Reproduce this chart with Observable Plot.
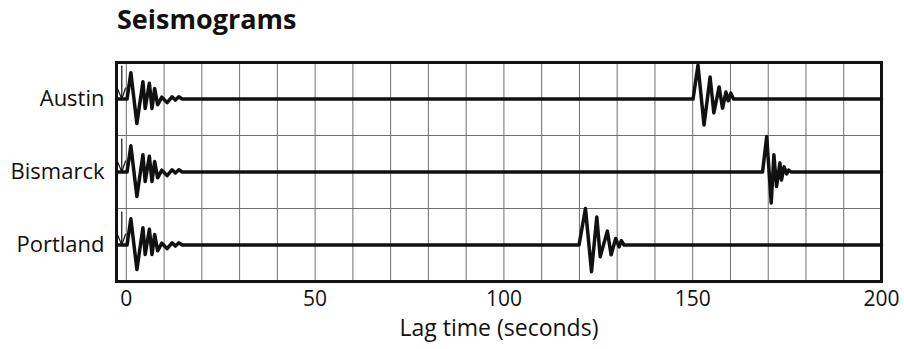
<!DOCTYPE html>
<html><head><meta charset="utf-8">
<script src="https://cdn.jsdelivr.net/npm/d3@7"></script>
<script src="https://cdn.jsdelivr.net/npm/@observablehq/plot@0.6"></script>
<style>
body{margin:0;background:#fff;}
#title{margin:0 0 0 117px;height:38px;line-height:38px;font-family:"Open Sans";font-weight:700;font-size:27px;color:#111;white-space:nowrap;}
#chart svg{overflow:visible;}
</style></head><body>
<div id="title">Seismograms</div>
<div id="chart"></div>
<script>
// Stations and their row positions (row units; thin grid lines between rows)
const stations = ["Austin", "Bismarck", "Portland"];
const rowPositions = [1, 3, 5];
const xTickValues = [0, 50, 100, 150, 200];
const gridXValues = [0, 10, 20, 30, 40, 50, 60, 70, 80, 90, 100, 110, 120, 130, 140, 150, 160, 170, 180, 190, 200];
const gridYValues = [2, 4];
const xStart = -2.6, xEnd = 200;

// Start-of-record marker (time s, amplitude in row units)
const markerV = [[-2.4, 0.3], [-1.2, 0], [-0.2, 0.3]];
const markerStem = [[-1.2, 0], [-1.2, 0.9]];

// First arrival (same shape at every station): [time s, amplitude]
const pWave = [[0.2, 0], [1.2, 0.72], [2.8, -0.67], [4.4, 0.47], [5.0, -0.26], [6.1, 0.43], [6.8, -0.26], [7.5, 0.29], [8.3, -0.16], [9.4, 0.05], [10.8, -0.1], [12.1, 0.06], [13.0, -0.03], [13.9, 0.06], [14.8, 0]];

// Later arrival per station: [time s, amplitude]
const austinS = [[150.1, 0], [151.4, 0.93], [153.0, -0.71], [154.6, 0.6], [155.6, -0.38], [157.0, 0.33], [157.9, -0.25], [158.8, 0.19], [159.4, -0.05], [160.1, 0.16], [160.8, 0]];
const bismarckS = [[168.5, 0], [169.6, 0.97], [170.8, -0.85], [171.5, 0.47], [172.2, -0.4], [173.1, 0.25], [173.5, -0.22], [174.2, 0.14], [174.9, -0.05], [175.4, 0.05], [176.0, 0]];
const portlandS = [[119.9, 0], [121.6, 1.0], [123.2, -0.73], [124.6, 0.77], [125.5, -0.32], [127.4, 0.38], [128.4, -0.27], [129.6, 0.18], [130.5, -0.05], [131.1, 0.12], [131.8, 0]];
const laterWaves = [austinS, bismarckS, portlandS];

const traces = [];
const markers = [];
stations.forEach((s, i) => {
  const row = rowPositions[i];
  const pts = [[xStart, 0], ...pWave, ...laterWaves[i], [xEnd, 0]];
  pts.forEach(([t, a]) => traces.push({station: s, t, y: row - a}));
  markerV.forEach(([t, a]) => markers.push({key: s + "v", t, y: row - a}));
  markerStem.forEach(([t, a]) => markers.push({key: s + "s", t, y: row - a}));
});

const chart = Plot.plot({
  width: 904, height: 311,
  marginLeft: 116, marginRight: 23, marginTop: 24, marginBottom: 68,
  x: {domain: [xStart, xEnd]},
  y: {domain: [0, 6], reverse: true},
  style: {fontFamily: "Open Sans", color: "#111", background: "white", overflow: "visible"},
  marks: [
    Plot.gridX(gridXValues, {stroke: "#6f6f6f", strokeOpacity: 1, strokeWidth: 1}),
    Plot.gridY(gridYValues, {stroke: "#6f6f6f", strokeOpacity: 1, strokeWidth: 1}),
    Plot.axisX(xTickValues, {tickSize: 0, tickPadding: 10, fontSize: 21, label: null}),
    Plot.axisY(rowPositions, {tickSize: 0, tickPadding: 12, fontSize: 22, label: null,
      tickFormat: d => stations[rowPositions.indexOf(d)]}),
    Plot.line(markers, {x: "t", y: "y", z: "key", stroke: "#111", strokeWidth: 1.2}),
    Plot.line(traces, {x: "t", y: "y", z: "station", stroke: "#111", strokeWidth: 3.5}),
    Plot.frame({stroke: "#111", strokeWidth: 3}),
    Plot.text(["Lag time (seconds)"], {text: d => d, frameAnchor: "bottom", dy: 54, fontSize: 23, fill: "#111"})
  ]
});
document.getElementById("chart").appendChild(chart);
</script>
</body></html>
